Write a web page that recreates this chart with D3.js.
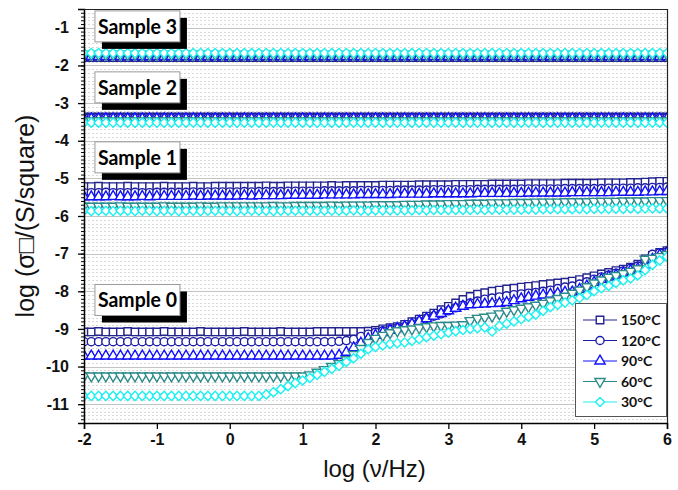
<!DOCTYPE html>
<html>
<head>
<meta charset="utf-8">
<script src="https://cdn.jsdelivr.net/npm/d3@7"></script>
<style>
  body { margin: 0; background: #fff; }
  svg { display: block; }
</style>
</head>
<body>
<svg id="chart" width="678" height="490"></svg>
<script>
/*globals d3*/

// log10 of the frequency (Hz), one point every 0.1 decade
var logFreq = [-2,-1.9,-1.8,-1.7,-1.6,-1.5,-1.4,-1.3,-1.2,-1.1,-1,-0.9,-0.8,-0.7,-0.6,-0.5,-0.4,-0.3,-0.2,-0.1,
    0,0.1,0.2,0.3,0.4,0.5,0.6,0.7,0.8,0.9,1,1.1,1.2,1.3,1.4,1.5,1.6,1.7,1.8,1.9,
    2,2.1,2.2,2.3,2.4,2.5,2.6,2.7,2.8,2.9,3,3.1,3.2,3.3,3.4,3.5,3.6,3.7,3.8,3.9,
    4,4.1,4.2,4.3,4.4,4.5,4.6,4.7,4.8,4.9,5,5.1,5.2,5.3,5.4,5.5,5.6,5.7,5.8,5.9,6];

var temps = ["150°C", "120°C", "90°C", "60°C", "30°C"];
var sampleNames = ["Sample 3", "Sample 2", "Sample 1", "Sample 0"];
var xTicks = [-2, -1, 0, 1, 2, 3, 4, 5, 6];
var yTicks = [-11, -10, -9, -8, -7, -6, -5, -4, -3, -2, -1];

// Sample 3
var s3_150 = [-1.79,-1.79,-1.79,-1.79,-1.79,-1.79,-1.79,-1.79,-1.79,-1.79,-1.79,-1.79,-1.79,-1.79,-1.79,-1.79,-1.79,-1.79,-1.79,-1.79,
    -1.79,-1.79,-1.79,-1.79,-1.79,-1.79,-1.79,-1.79,-1.79,-1.79,-1.79,-1.79,-1.79,-1.79,-1.79,-1.79,-1.79,-1.79,-1.79,-1.79,
    -1.79,-1.79,-1.79,-1.79,-1.79,-1.79,-1.79,-1.79,-1.79,-1.79,-1.79,-1.79,-1.79,-1.79,-1.79,-1.79,-1.79,-1.79,-1.79,-1.79,
    -1.79,-1.79,-1.79,-1.79,-1.79,-1.79,-1.79,-1.79,-1.79,-1.79,-1.79,-1.79,-1.79,-1.79,-1.79,-1.79,-1.79,-1.79,-1.79,-1.79,-1.79];
var s3_120 = [-1.78,-1.78,-1.78,-1.78,-1.78,-1.78,-1.78,-1.78,-1.78,-1.78,-1.78,-1.78,-1.78,-1.78,-1.78,-1.78,-1.78,-1.78,-1.78,-1.78,
    -1.78,-1.78,-1.78,-1.78,-1.78,-1.78,-1.78,-1.78,-1.78,-1.78,-1.78,-1.78,-1.78,-1.78,-1.78,-1.78,-1.78,-1.78,-1.78,-1.78,
    -1.78,-1.78,-1.78,-1.78,-1.78,-1.78,-1.78,-1.78,-1.78,-1.78,-1.78,-1.78,-1.78,-1.78,-1.78,-1.78,-1.78,-1.78,-1.78,-1.78,
    -1.78,-1.78,-1.78,-1.78,-1.78,-1.78,-1.78,-1.78,-1.78,-1.78,-1.78,-1.78,-1.78,-1.78,-1.78,-1.78,-1.78,-1.78,-1.78,-1.78,-1.78];
var s3_90 = [-1.76,-1.76,-1.76,-1.76,-1.76,-1.76,-1.76,-1.76,-1.76,-1.76,-1.76,-1.76,-1.76,-1.76,-1.76,-1.76,-1.76,-1.76,-1.76,-1.76,
    -1.76,-1.76,-1.76,-1.76,-1.76,-1.76,-1.76,-1.76,-1.76,-1.76,-1.76,-1.76,-1.76,-1.76,-1.76,-1.76,-1.76,-1.76,-1.76,-1.76,
    -1.76,-1.76,-1.76,-1.76,-1.76,-1.76,-1.76,-1.76,-1.76,-1.76,-1.76,-1.76,-1.76,-1.76,-1.76,-1.76,-1.76,-1.76,-1.76,-1.76,
    -1.76,-1.76,-1.76,-1.76,-1.76,-1.76,-1.76,-1.76,-1.76,-1.76,-1.76,-1.76,-1.76,-1.76,-1.76,-1.76,-1.76,-1.76,-1.76,-1.76,-1.76];
var s3_60 = [-1.71,-1.71,-1.71,-1.71,-1.71,-1.71,-1.71,-1.71,-1.71,-1.71,-1.71,-1.71,-1.71,-1.71,-1.71,-1.71,-1.71,-1.71,-1.71,-1.71,
    -1.71,-1.71,-1.71,-1.71,-1.71,-1.71,-1.71,-1.71,-1.71,-1.71,-1.71,-1.71,-1.71,-1.71,-1.71,-1.71,-1.71,-1.71,-1.71,-1.71,
    -1.71,-1.71,-1.71,-1.71,-1.71,-1.71,-1.71,-1.71,-1.71,-1.71,-1.71,-1.71,-1.71,-1.71,-1.71,-1.71,-1.71,-1.71,-1.71,-1.71,
    -1.71,-1.71,-1.71,-1.71,-1.71,-1.71,-1.71,-1.71,-1.71,-1.71,-1.71,-1.71,-1.71,-1.71,-1.71,-1.71,-1.71,-1.71,-1.71,-1.71,-1.71];
var s3_30 = [-1.67,-1.67,-1.67,-1.67,-1.67,-1.67,-1.67,-1.67,-1.67,-1.67,-1.67,-1.67,-1.67,-1.67,-1.67,-1.67,-1.67,-1.67,-1.67,-1.67,
    -1.67,-1.67,-1.67,-1.67,-1.67,-1.67,-1.67,-1.67,-1.67,-1.67,-1.67,-1.67,-1.67,-1.67,-1.67,-1.67,-1.67,-1.67,-1.67,-1.67,
    -1.67,-1.67,-1.67,-1.67,-1.67,-1.67,-1.67,-1.67,-1.67,-1.67,-1.67,-1.67,-1.67,-1.67,-1.67,-1.67,-1.67,-1.67,-1.67,-1.67,
    -1.67,-1.67,-1.67,-1.67,-1.67,-1.67,-1.67,-1.67,-1.67,-1.67,-1.67,-1.67,-1.67,-1.67,-1.67,-1.67,-1.67,-1.67,-1.67,-1.67,-1.67];

// Sample 2
var s2_150 = [-3.37,-3.37,-3.37,-3.37,-3.37,-3.37,-3.37,-3.37,-3.37,-3.37,-3.37,-3.37,-3.37,-3.37,-3.37,-3.37,-3.37,-3.37,-3.37,-3.37,
    -3.37,-3.37,-3.37,-3.37,-3.37,-3.37,-3.37,-3.37,-3.37,-3.37,-3.37,-3.37,-3.37,-3.37,-3.37,-3.37,-3.37,-3.37,-3.37,-3.37,
    -3.37,-3.37,-3.37,-3.37,-3.37,-3.37,-3.37,-3.37,-3.37,-3.37,-3.37,-3.37,-3.37,-3.37,-3.37,-3.37,-3.37,-3.37,-3.37,-3.37,
    -3.37,-3.37,-3.37,-3.37,-3.37,-3.37,-3.37,-3.37,-3.37,-3.37,-3.37,-3.37,-3.37,-3.37,-3.37,-3.37,-3.37,-3.37,-3.37,-3.37,-3.37];
var s2_120 = [-3.39,-3.39,-3.39,-3.39,-3.39,-3.39,-3.39,-3.39,-3.39,-3.39,-3.39,-3.39,-3.39,-3.39,-3.39,-3.39,-3.39,-3.39,-3.39,-3.39,
    -3.39,-3.39,-3.39,-3.39,-3.39,-3.39,-3.39,-3.39,-3.39,-3.39,-3.39,-3.39,-3.39,-3.39,-3.39,-3.39,-3.39,-3.39,-3.39,-3.39,
    -3.39,-3.39,-3.39,-3.39,-3.39,-3.39,-3.39,-3.39,-3.39,-3.39,-3.39,-3.39,-3.39,-3.39,-3.39,-3.39,-3.39,-3.39,-3.39,-3.39,
    -3.39,-3.39,-3.39,-3.39,-3.39,-3.39,-3.39,-3.39,-3.39,-3.39,-3.39,-3.39,-3.39,-3.39,-3.39,-3.39,-3.39,-3.39,-3.39,-3.39,-3.39];
var s2_90 = [-3.42,-3.42,-3.42,-3.42,-3.42,-3.42,-3.42,-3.42,-3.42,-3.42,-3.42,-3.42,-3.42,-3.42,-3.42,-3.42,-3.42,-3.42,-3.42,-3.42,
    -3.42,-3.42,-3.42,-3.42,-3.42,-3.42,-3.42,-3.42,-3.42,-3.42,-3.42,-3.42,-3.42,-3.42,-3.42,-3.42,-3.42,-3.42,-3.42,-3.42,
    -3.42,-3.42,-3.42,-3.42,-3.42,-3.42,-3.42,-3.42,-3.42,-3.42,-3.42,-3.42,-3.42,-3.42,-3.42,-3.42,-3.42,-3.42,-3.42,-3.42,
    -3.42,-3.42,-3.42,-3.42,-3.42,-3.42,-3.42,-3.42,-3.42,-3.42,-3.42,-3.42,-3.42,-3.42,-3.42,-3.42,-3.42,-3.42,-3.42,-3.42,-3.42];
var s2_60 = [-3.47,-3.47,-3.47,-3.47,-3.47,-3.47,-3.47,-3.47,-3.47,-3.47,-3.47,-3.47,-3.47,-3.47,-3.47,-3.47,-3.47,-3.47,-3.47,-3.47,
    -3.47,-3.47,-3.47,-3.47,-3.47,-3.47,-3.47,-3.47,-3.47,-3.47,-3.47,-3.47,-3.47,-3.47,-3.47,-3.47,-3.47,-3.47,-3.47,-3.47,
    -3.47,-3.47,-3.47,-3.47,-3.47,-3.47,-3.47,-3.47,-3.47,-3.47,-3.47,-3.47,-3.47,-3.47,-3.47,-3.47,-3.47,-3.47,-3.47,-3.47,
    -3.47,-3.47,-3.47,-3.47,-3.47,-3.47,-3.47,-3.47,-3.47,-3.47,-3.47,-3.47,-3.47,-3.47,-3.47,-3.47,-3.47,-3.47,-3.47,-3.47,-3.47];
var s2_30 = [-3.52,-3.52,-3.52,-3.52,-3.52,-3.52,-3.52,-3.52,-3.52,-3.52,-3.52,-3.52,-3.52,-3.52,-3.52,-3.52,-3.52,-3.52,-3.52,-3.52,
    -3.52,-3.52,-3.52,-3.52,-3.52,-3.52,-3.52,-3.52,-3.52,-3.52,-3.52,-3.52,-3.52,-3.52,-3.52,-3.52,-3.52,-3.52,-3.52,-3.52,
    -3.52,-3.52,-3.52,-3.52,-3.52,-3.52,-3.52,-3.52,-3.52,-3.52,-3.52,-3.52,-3.52,-3.52,-3.52,-3.52,-3.52,-3.52,-3.52,-3.52,
    -3.52,-3.52,-3.52,-3.52,-3.52,-3.52,-3.52,-3.52,-3.52,-3.52,-3.52,-3.52,-3.52,-3.52,-3.52,-3.52,-3.52,-3.52,-3.52,-3.52,-3.52];

// Sample 1
var s1_150 = [-5.22,-5.22,-5.21,-5.22,-5.22,-5.22,-5.21,-5.22,-5.22,-5.22,-5.22,-5.21,-5.22,-5.22,-5.22,-5.21,-5.22,-5.22,-5.21,-5.21,
    -5.21,-5.21,-5.21,-5.21,-5.21,-5.20,-5.21,-5.21,-5.20,-5.20,-5.20,-5.20,-5.20,-5.20,-5.19,-5.20,-5.19,-5.19,-5.19,-5.19,
    -5.19,-5.18,-5.18,-5.18,-5.18,-5.18,-5.17,-5.17,-5.17,-5.17,-5.17,-5.16,-5.16,-5.16,-5.16,-5.16,-5.15,-5.15,-5.15,-5.15,
    -5.15,-5.14,-5.14,-5.14,-5.14,-5.14,-5.13,-5.13,-5.13,-5.13,-5.13,-5.12,-5.12,-5.12,-5.12,-5.11,-5.11,-5.10,-5.09,-5.08,-5.08];
var s1_120 = [-5.38,-5.38,-5.38,-5.37,-5.38,-5.38,-5.38,-5.37,-5.38,-5.38,-5.37,-5.37,-5.37,-5.37,-5.37,-5.36,-5.37,-5.36,-5.36,-5.36,
    -5.36,-5.36,-5.35,-5.36,-5.35,-5.35,-5.35,-5.35,-5.34,-5.34,-5.34,-5.34,-5.34,-5.33,-5.33,-5.33,-5.33,-5.33,-5.32,-5.32,
    -5.32,-5.32,-5.32,-5.31,-5.31,-5.31,-5.31,-5.31,-5.30,-5.30,-5.30,-5.30,-5.30,-5.30,-5.29,-5.29,-5.29,-5.29,-5.29,-5.29,
    -5.28,-5.28,-5.28,-5.28,-5.28,-5.28,-5.27,-5.27,-5.27,-5.27,-5.27,-5.27,-5.26,-5.26,-5.26,-5.26,-5.25,-5.25,-5.24,-5.24,-5.23];
var s1_90 = [-5.49,-5.49,-5.49,-5.49,-5.48,-5.49,-5.49,-5.49,-5.48,-5.49,-5.48,-5.48,-5.48,-5.48,-5.48,-5.47,-5.48,-5.47,-5.47,-5.47,
    -5.47,-5.47,-5.46,-5.47,-5.46,-5.46,-5.46,-5.46,-5.45,-5.45,-5.45,-5.45,-5.45,-5.44,-5.44,-5.44,-5.44,-5.44,-5.43,-5.43,
    -5.43,-5.43,-5.43,-5.42,-5.42,-5.42,-5.42,-5.42,-5.41,-5.41,-5.41,-5.41,-5.41,-5.41,-5.40,-5.40,-5.40,-5.40,-5.40,-5.40,
    -5.40,-5.39,-5.39,-5.39,-5.39,-5.39,-5.39,-5.38,-5.38,-5.38,-5.38,-5.38,-5.38,-5.37,-5.37,-5.37,-5.37,-5.36,-5.36,-5.35,-5.35];
var s1_60 = [-5.74,-5.74,-5.74,-5.74,-5.74,-5.73,-5.74,-5.74,-5.74,-5.74,-5.74,-5.73,-5.74,-5.74,-5.74,-5.74,-5.73,-5.74,-5.74,-5.73,
    -5.73,-5.73,-5.73,-5.73,-5.73,-5.73,-5.72,-5.73,-5.73,-5.72,-5.72,-5.72,-5.72,-5.72,-5.71,-5.72,-5.71,-5.71,-5.71,-5.71,
    -5.70,-5.70,-5.70,-5.70,-5.69,-5.69,-5.69,-5.68,-5.68,-5.68,-5.67,-5.67,-5.67,-5.66,-5.66,-5.66,-5.65,-5.65,-5.65,-5.64,
    -5.64,-5.64,-5.63,-5.63,-5.63,-5.63,-5.62,-5.62,-5.62,-5.62,-5.61,-5.61,-5.61,-5.61,-5.60,-5.60,-5.60,-5.60,-5.59,-5.59,-5.59];
var s1_30 = [-5.86,-5.87,-5.86,-5.86,-5.87,-5.86,-5.86,-5.87,-5.86,-5.86,-5.87,-5.86,-5.86,-5.87,-5.86,-5.86,-5.87,-5.86,-5.86,-5.86,
    -5.86,-5.87,-5.86,-5.86,-5.86,-5.86,-5.87,-5.86,-5.86,-5.86,-5.86,-5.86,-5.86,-5.86,-5.86,-5.86,-5.86,-5.85,-5.86,-5.86,
    -5.85,-5.85,-5.85,-5.85,-5.85,-5.85,-5.84,-5.85,-5.84,-5.84,-5.84,-5.84,-5.84,-5.84,-5.83,-5.84,-5.83,-5.83,-5.83,-5.83,
    -5.83,-5.82,-5.83,-5.82,-5.82,-5.82,-5.82,-5.82,-5.81,-5.82,-5.81,-5.81,-5.81,-5.81,-5.81,-5.80,-5.81,-5.80,-5.80,-5.80,-5.80];

// Sample 0
var s0_150 = [-9.08,-9.08,-9.07,-9.08,-9.08,-9.08,-9.07,-9.08,-9.08,-9.08,-9.08,-9.07,-9.08,-9.08,-9.08,-9.08,-9.07,-9.08,-9.08,-9.08,
    -9.08,-9.08,-9.07,-9.08,-9.08,-9.08,-9.08,-9.07,-9.08,-9.08,-9.08,-9.08,-9.07,-9.07,-9.07,-9.07,-9.07,-9.07,-9.07,-9.06,
    -9.04,-9.00,-8.97,-8.94,-8.88,-8.81,-8.74,-8.66,-8.58,-8.49,-8.40,-8.31,-8.22,-8.14,-8.08,-8.04,-8.00,-7.97,-7.94,-7.92,
    -7.89,-7.87,-7.85,-7.82,-7.80,-7.78,-7.76,-7.73,-7.69,-7.64,-7.59,-7.54,-7.50,-7.45,-7.41,-7.36,-7.28,-7.14,-7.05,-6.97,-6.92];
var s0_120 = [-9.34,-9.34,-9.34,-9.34,-9.34,-9.34,-9.34,-9.34,-9.34,-9.34,-9.34,-9.34,-9.34,-9.34,-9.34,-9.34,-9.34,-9.34,-9.34,-9.34,
    -9.34,-9.34,-9.34,-9.34,-9.34,-9.34,-9.34,-9.34,-9.34,-9.34,-9.34,-9.34,-9.34,-9.34,-9.34,-9.33,-9.31,-9.28,-9.20,-9.14,
    -9.09,-9.05,-9.01,-8.97,-8.94,-8.88,-8.80,-8.72,-8.66,-8.60,-8.52,-8.44,-8.37,-8.31,-8.26,-8.21,-8.18,-8.15,-8.12,-8.09,
    -8.07,-8.05,-8.03,-8.00,-7.97,-7.93,-7.89,-7.86,-7.81,-7.75,-7.68,-7.62,-7.57,-7.52,-7.46,-7.39,-7.33,-7.20,-7.02,-6.98,-6.95];
var s0_90 = [-9.72,-9.72,-9.72,-9.72,-9.72,-9.72,-9.72,-9.72,-9.72,-9.72,-9.72,-9.72,-9.72,-9.72,-9.72,-9.72,-9.72,-9.72,-9.72,-9.72,
    -9.72,-9.72,-9.72,-9.72,-9.72,-9.72,-9.72,-9.72,-9.72,-9.72,-9.72,-9.72,-9.72,-9.72,-9.72,-9.70,-9.62,-9.50,-9.38,-9.26,
    -9.17,-9.10,-9.04,-8.99,-8.94,-8.87,-8.80,-8.73,-8.66,-8.59,-8.52,-8.45,-8.40,-8.36,-8.35,-8.34,-8.33,-8.32,-8.30,-8.25,
    -8.20,-8.16,-8.13,-8.10,-8.08,-8.06,-8.03,-8.02,-7.95,-7.86,-7.76,-7.68,-7.62,-7.57,-7.51,-7.45,-7.40,-7.30,-7.15,-7.04,-6.98];
var s0_60 = [-10.25,-10.25,-10.25,-10.25,-10.25,-10.25,-10.25,-10.25,-10.25,-10.25,-10.25,-10.25,-10.25,-10.25,-10.25,-10.25,-10.25,-10.25,-10.25,-10.25,
    -10.25,-10.25,-10.25,-10.25,-10.25,-10.25,-10.25,-10.25,-10.25,-10.25,-10.25,-10.22,-10.15,-10.08,-10.00,-9.92,-9.82,-9.68,-9.52,-9.36,
    -9.25,-9.17,-9.10,-9.05,-9.02,-9.00,-8.97,-8.94,-8.92,-8.91,-8.91,-8.90,-8.89,-8.78,-8.72,-8.69,-8.66,-8.60,-8.53,-8.49,
    -8.45,-8.41,-8.37,-8.32,-8.25,-8.19,-8.13,-8.05,-7.97,-7.88,-7.78,-7.70,-7.63,-7.58,-7.53,-7.47,-7.40,-7.15,-7.12,-7.08,-7.02];
var s0_30 = [-10.78,-10.78,-10.78,-10.78,-10.78,-10.78,-10.78,-10.78,-10.78,-10.78,-10.78,-10.78,-10.78,-10.78,-10.78,-10.78,-10.78,-10.78,-10.78,-10.78,
    -10.78,-10.78,-10.78,-10.78,-10.78,-10.74,-10.68,-10.60,-10.52,-10.44,-10.37,-10.30,-10.22,-10.14,-10.06,-9.98,-9.88,-9.78,-9.66,-9.54,
    -9.48,-9.44,-9.40,-9.38,-9.36,-9.32,-9.27,-9.22,-9.18,-9.14,-9.10,-9.06,-9.03,-9.00,-8.98,-8.96,-9.07,-8.92,-8.86,-8.80,
    -8.74,-8.68,-8.62,-8.52,-8.42,-8.36,-8.30,-8.24,-8.18,-8.10,-8.00,-7.92,-7.86,-7.78,-7.71,-7.66,-7.58,-7.44,-7.30,-7.18,-7.08];

(function () {
    "use strict";

    var x = d3.scaleLinear().domain([-2, 6]).range([84, 667]),
        y = d3.scaleLinear().domain([-11.5, -0.5]).range([423, 9]);

    var labelFont = "Lato, 'Open Sans', sans-serif",
        axisFont = "'Liberation Sans', Arial, sans-serif";

    // one style per temperature, same order as temps
    var styles = [
        { color: '#24248f', type: d3.symbolSquare, size: 56, rotate: 0 },
        { color: '#1c1ca4', type: d3.symbolCircle, size: 52, rotate: 0 },
        { color: '#1010ff', type: d3.symbolTriangle, size: 46, rotate: 0 },
        { color: '#2b8b8b', type: d3.symbolTriangle, size: 46, rotate: 180 },
        { color: '#1cf0f0', type: d3.symbolSquare, size: 42, rotate: 45 }
    ];

    var samples = [
        { name: sampleNames[0], series: [s3_150, s3_120, s3_90, s3_60, s3_30] },
        { name: sampleNames[1], series: [s2_150, s2_120, s2_90, s2_60, s2_30] },
        { name: sampleNames[2], series: [s1_150, s1_120, s1_90, s1_60, s1_30] },
        { name: sampleNames[3], series: [s0_150, s0_120, s0_90, s0_60, s0_30] }
    ];

    // where the sample boxes sit (top edge, in data units)
    var labelTop = [-0.55, -2.17, -4.03, -7.82];

    var svg = d3.select('#chart');

    svg.append('defs').append('clipPath')
        .attr('id', 'plot-clip')
      .append('rect')
        .attr('x', x(-2)).attr('y', y(-0.5))
        .attr('width', x(6) - x(-2)).attr('height', y(-11.5) - y(-0.5));

    /***************************************
     * Grid
     */
    var grid = svg.append('g').attr('class', 'grid');

    grid.selectAll('line.minor')
        .data(y.ticks(110).filter(function (d) { return Math.abs(d - Math.round(d)) > 1e-6; }))
      .enter().append('line')
        .attr('class', 'minor')
        .attr('x1', x(-2)).attr('x2', x(6))
        .attr('y1', function (d) { return Math.round(y(d)) + 0.5; })
        .attr('y2', function (d) { return Math.round(y(d)) + 0.5; })
        .attr('stroke', '#d9d9d9')
        .attr('stroke-dasharray', '2,2');

    grid.selectAll('line.major')
        .data(yTicks)
      .enter().append('line')
        .attr('class', 'major')
        .attr('x1', x(-2)).attr('x2', x(6))
        .attr('y1', function (d) { return Math.round(y(d)) + 0.5; })
        .attr('y2', function (d) { return Math.round(y(d)) + 0.5; })
        .attr('stroke', '#c4c4c4')
        .attr('stroke-width', 1.2);

    /***************************************
     * Series
     */
    var plot = svg.append('g').attr('clip-path', 'url(#plot-clip)');

    var line = d3.line()
        .x(function (d) { return x(d[0]); })
        .y(function (d) { return y(d[1]); });

    samples.forEach(function (s) {
        s.series.forEach(function (vals, k) {
            var st = styles[k];
            var pts = logFreq.map(function (f, i) { return [f, vals[i]]; });
            var g = plot.append('g').attr('class', 'series t' + k);

            g.append('path')
                .datum(pts)
                .attr('d', line)
                .attr('fill', 'none')
                .attr('stroke', st.color)
                .attr('stroke-width', 1);

            var sym = d3.symbol().type(st.type).size(st.size);
            g.selectAll('path.marker')
                .data(pts)
              .enter().append('path')
                .attr('class', 'marker')
                .attr('d', sym)
                .attr('transform', function (d) {
                    return 'translate(' + x(d[0]) + ',' + y(d[1]) + ')' +
                        (st.rotate ? ' rotate(' + st.rotate + ')' : '');
                })
                .attr('fill', '#fff')
                .attr('stroke', st.color)
                .attr('stroke-width', 1.4);
        });
    });

    /***************************************
     * Axes and frame
     */
    var fmt = function (d) { return String(d); };

    svg.append('g')
        .attr('transform', 'translate(' + x(-2) + ',0)')
        .call(d3.axisLeft(y).tickValues(y.ticks(110)).tickSize(3).tickFormat(''))
        .call(function (g) { g.select('.domain').remove(); });

    var yAxis = svg.append('g')
        .attr('transform', 'translate(' + x(-2) + ',0)')
        .call(d3.axisLeft(y).tickValues(yTicks).tickSize(6).tickPadding(9).tickFormat(fmt));

    var xAxis = svg.append('g')
        .attr('transform', 'translate(0,' + y(-11.5) + ')')
        .call(d3.axisBottom(x).tickValues(xTicks).tickSize(6).tickPadding(5).tickFormat(fmt));

    [yAxis, xAxis].forEach(function (g) {
        g.select('.domain').attr('stroke-width', 1.5);
        g.selectAll('.tick line').attr('stroke-width', 1.3);
        g.selectAll('text')
            .attr('font-family', axisFont)
            .attr('font-size', 16)
            .attr('font-weight', 'bold')
            .attr('fill', '#111');
    });

    svg.append('path')
        .attr('d', 'M' + x(-2) + ',' + (y(-0.5) + 0.5) + 'H' + (x(6) + 0.5) + 'V' + y(-11.5))
        .attr('fill', 'none')
        .attr('stroke', '#222')
        .attr('stroke-width', 1.2);

    svg.append('text')
        .attr('x', (x(-2) + x(6)) / 2 - 1)
        .attr('y', 477)
        .attr('text-anchor', 'middle')
        .attr('font-family', axisFont)
        .attr('font-size', 24)
        .attr('fill', '#111')
        .text('log (ν/Hz)');

    svg.append('text')
        .attr('transform', 'translate(34,' + ((y(-0.5) + y(-11.5)) / 2) + ') rotate(-90)')
        .attr('text-anchor', 'middle')
        .attr('font-family', axisFont)
        .attr('font-size', 25)
        .attr('fill', '#111')
        .text('log (σ□/(S/square)');

    /***************************************
     * Sample boxes
     */
    samples.forEach(function (s, i) {
        var bx = x(-1.85), by = y(labelTop[i]), bw = 85, bh = 31;
        var g = svg.append('g').attr('class', 'sample-label');
        g.append('rect')
            .attr('x', bx + 7).attr('y', by + 7)
            .attr('width', bw).attr('height', bh)
            .attr('fill', '#000');
        g.append('rect')
            .attr('x', bx).attr('y', by)
            .attr('width', bw).attr('height', bh)
            .attr('fill', '#fff')
            .attr('stroke', '#9a9a9a');
        g.append('text')
            .attr('x', bx + 3).attr('y', by + 23)
            .attr('font-family', labelFont)
            .attr('font-weight', 'bold')
            .attr('font-size', 20)
            .attr('textLength', 79)
            .attr('lengthAdjust', 'spacingAndGlyphs')
            .attr('fill', '#000')
            .text(s.name);
    });

    /***************************************
     * Legend
     */
    var lg = svg.append('g').attr('transform', 'translate(575,303)');
    lg.append('rect')
        .attr('x', 0.5).attr('y', 0.5)
        .attr('width', 91).attr('height', 113)
        .attr('fill', '#fff')
        .attr('stroke', '#555');

    temps.forEach(function (t, k) {
        var st = styles[k], ly = 17 + k * 20.5;
        var row = lg.append('g').attr('transform', 'translate(0,' + ly + ')');
        row.append('line')
            .attr('x1', 8).attr('x2', 42)
            .attr('stroke', st.color)
            .attr('stroke-width', 1);
        row.append('path')
            .attr('d', d3.symbol().type(st.type).size(st.size))
            .attr('transform', 'translate(25,0)' + (st.rotate ? ' rotate(' + st.rotate + ')' : ''))
            .attr('fill', '#fff')
            .attr('stroke', st.color)
            .attr('stroke-width', 1.4);
        row.append('text')
            .attr('x', 46).attr('y', 5)
            .attr('font-family', labelFont)
            .attr('font-weight', 'bold')
            .attr('font-size', 14)
            .attr('fill', '#111')
            .text(t);
    });
})();
</script>
</body>
</html>
